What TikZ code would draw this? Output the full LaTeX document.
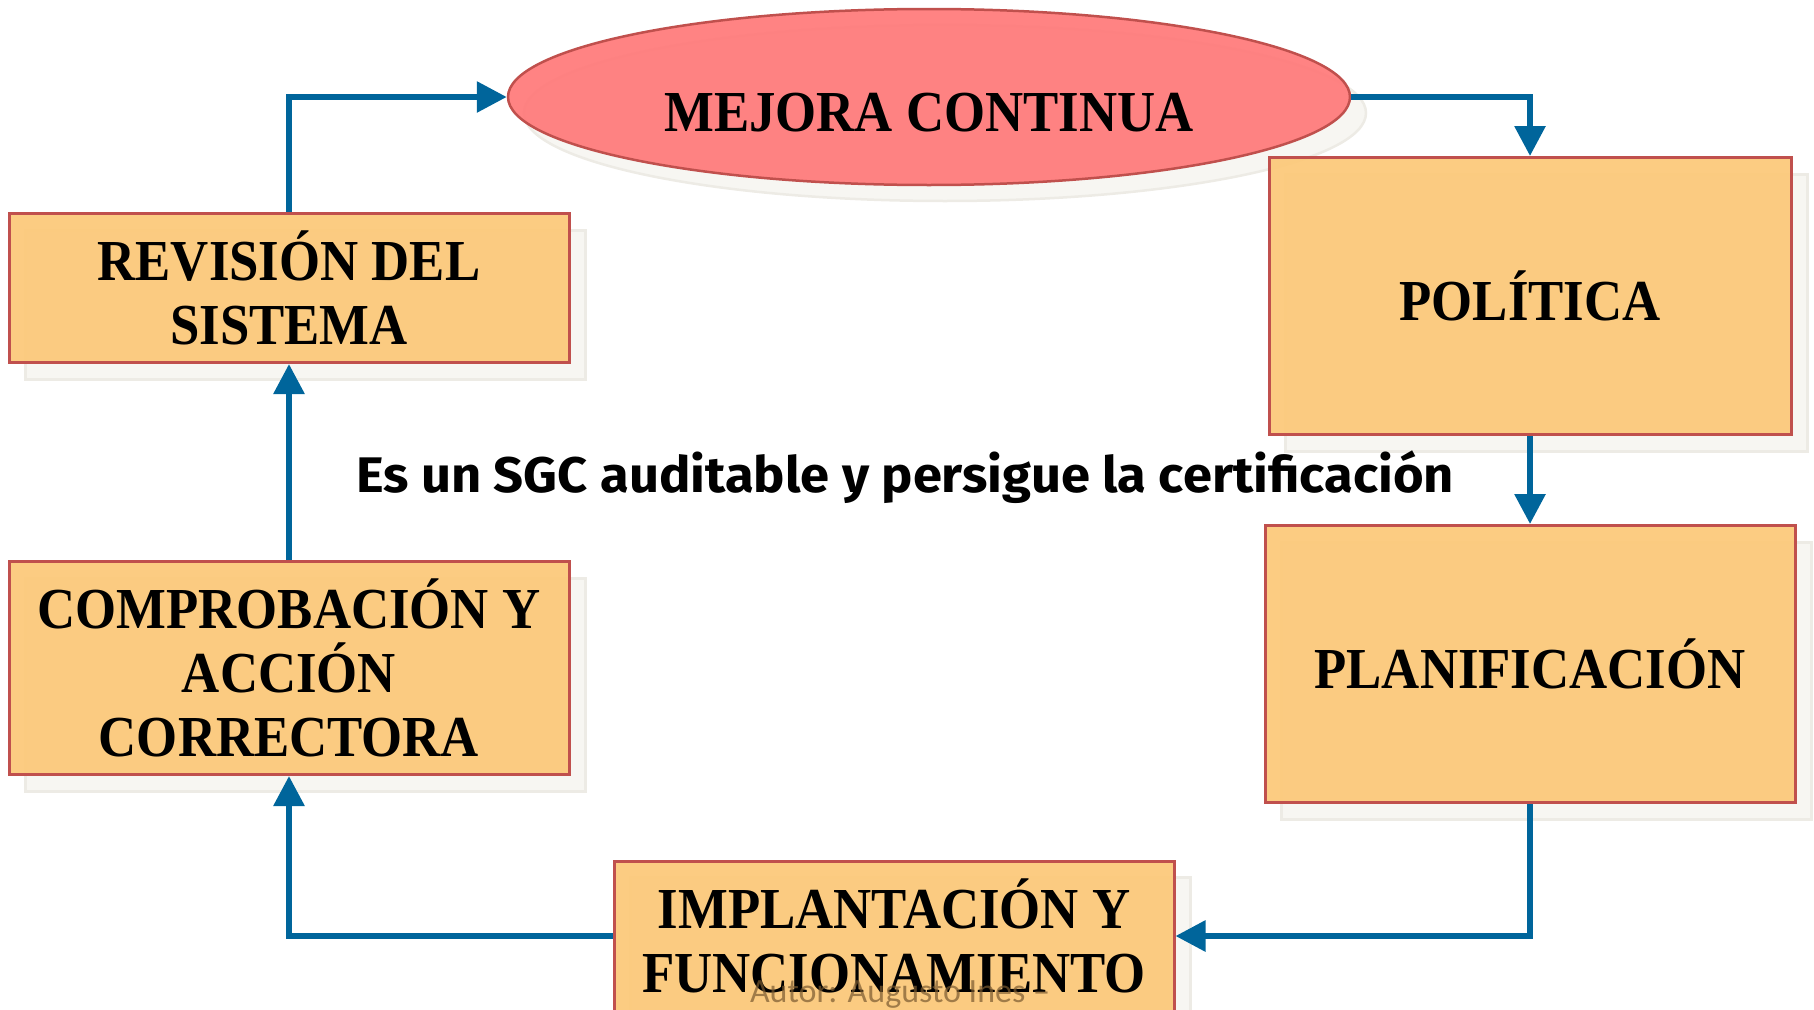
\documentclass[tikz,border=0pt]{standalone}
\usepackage{fontspec}
\newfontfamily\tnr[FakeStretch=0.91]{Liberation Serif}
\newfontfamily\comic[FakeStretch=1.05]{Fira Sans}
\newfontfamily\autorfont{Carlito}
\usetikzlibrary{arrows.meta,shapes.geometric}
\definecolor{boxfill}{HTML}{FCC97A}
\definecolor{boxline}{HTML}{C0504D}
\definecolor{ellfill}{HTML}{FF7B7B}
\definecolor{arrowblue}{HTML}{00659B}
\definecolor{shadowfill}{HTML}{F7F6F2}
\definecolor{shadowline}{HTML}{EDEBE5}
\definecolor{autorcol}{HTML}{7A5A30}
\tikzset{
  boxtext/.style={font=\tnr\bfseries\fontsize{58}{64}\selectfont, align=center, text=black},
  stepbox/.style={rectangle, draw=boxline, line width=3pt, fill=boxfill, fill opacity=0.94, text opacity=1, inner sep=0pt, boxtext},
  shadowbox/.style={rectangle, draw=shadowline, line width=3pt, fill=shadowfill, inner sep=0pt},
  ellbox/.style={ellipse, draw=boxline, line width=2.5pt, fill=ellfill, fill opacity=0.94, text opacity=1, inner sep=0pt, boxtext},
  shadowell/.style={ellipse, draw=shadowline, line width=2.5pt, fill=shadowfill, inner sep=0pt},
  conn/.style={draw=arrowblue, line width=6pt, -{Triangle[length=30pt,width=30pt]}},
}
\begin{document}
\begin{tikzpicture}[x=1pt,y=-1pt]
\useasboundingbox (0,0) rectangle (1814,1009);
% shadows
\node[shadowell, minimum width=842pt, minimum height=176pt] (mejoraS) at (945,113) {};
\node[shadowbox, minimum width=522pt, minimum height=277pt] (polS) at (1546,313) {};
\node[shadowbox, minimum width=530pt, minimum height=277pt] (planS) at (1546,681) {};
\node[shadowbox, minimum width=560pt, minimum height=150pt] (implS) at (910,952) {};
\node[shadowbox, minimum width=560pt, minimum height=213pt] (compS) at (305,685) {};
\node[shadowbox, minimum width=560pt, minimum height=149pt] (revS) at (305,305) {};
% main shapes
\node[ellbox, minimum width=842pt, minimum height=176pt, text height=68pt, text depth=0pt] (mejora) at (929,97) {MEJORA CONTINUA};
\node[stepbox, minimum width=522pt, minimum height=277pt] (pol) at (1530,296) {POLÍTICA};
\node[stepbox, minimum width=530pt, minimum height=277pt] (plan) at (1530,664) {PLANIFICACIÓN};
\node[stepbox, minimum width=560pt, minimum height=150pt] (impl) at (894,936) {IMPLANTACIÓN Y\\FUNCIONAMIENTO};
\node[stepbox, minimum width=560pt, minimum height=213pt] (comp) at (289,668) {COMPROBACIÓN Y\\ACCIÓN\\CORRECTORA};
\node[stepbox, minimum width=560pt, minimum height=149pt] (rev) at (289,288) {REVISIÓN DEL\\SISTEMA};
% texts
\node[font=\comic\bfseries\fontsize{50}{56}\selectfont, anchor=base] (sgc) at (905,492) {Es un SGC auditable y persigue la certificación};
\node[font=\autorfont\fontsize{34}{38}\selectfont, text=autorcol, text opacity=0.7] (autor) at (900,994) {Autor: Augusto Ines –};
% connectors
\draw[conn] (rev.north) |- (mejora.west);
\draw[conn] (mejora.east) -| (pol.north);
\draw[conn] (pol.south) -- (plan.north);
\draw[conn] (plan.south) |- (impl.east);
\draw[conn] (impl.west) -| (comp.south);
\draw[conn] (comp.north) -- (rev.south);
\end{tikzpicture}
\end{document}
